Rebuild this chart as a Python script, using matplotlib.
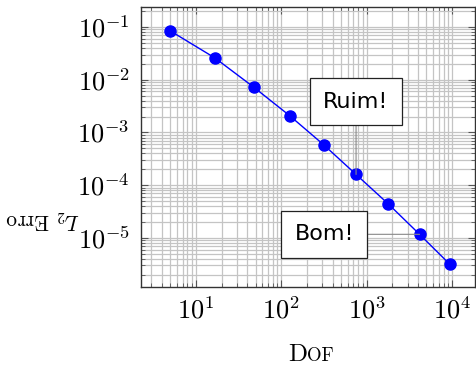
import matplotlib
matplotlib.use("Agg")
from matplotlib import pyplot as plt
from matplotlib.ticker import LogLocator, NullFormatter, FuncFormatter
import numpy as np

plt.rcParams["mathtext.fontset"] = "cm"

# Data
dof = [5, 16.7, 47.5, 126, 315, 750, 1790, 4150, 9300]
erro = [0.085, 0.026, 0.00726, 0.00207, 5.8e-4, 1.6e-4, 4.4e-5, 1.17e-5, 3.2e-6]

fig = plt.figure(figsize=(4.76, 3.68), dpi=100)
ax = fig.add_axes([0.296, 0.22, 0.702, 0.761])

ax.plot(dof, erro, color="#0000ff", lw=1, marker="o", ms=8, zorder=3)

ax.set_xscale("log")
ax.set_yscale("log")
ax.set_xlim(2.28, 18500)
ax.set_ylim(1.17e-6, 0.24)

pow_fmt = FuncFormatter(lambda v, pos: r"$10^{%d}$" % round(np.log10(v)))
for axis in (ax.xaxis, ax.yaxis):
    axis.set_major_locator(LogLocator(base=10, numticks=20))
    axis.set_minor_locator(LogLocator(base=10, subs=range(2, 10), numticks=20))
    axis.set_major_formatter(pow_fmt)
    axis.set_minor_formatter(NullFormatter())

ax.grid(True, which="both", color="#c4c4c4", lw=0.9)
ax.set_axisbelow(True)
ax.tick_params(which="both", direction="in", top=True, right=True, color="#555555", labelsize=19)
ax.tick_params(which="major", length=5, pad=8)
ax.tick_params(which="minor", length=3)
for s in ax.spines.values():
    s.set_color("#333333")
    s.set_linewidth(1)

# annotation boxes
box = dict(boxstyle="square,pad=0.6", fc="white", ec="#222222", lw=0.9)
line = dict(arrowstyle="-", color="#888888", lw=0.8, shrinkA=0, shrinkB=0)
ax.annotate("Ruim!", xy=(dof[5], erro[5]), xytext=(750, 3.83e-3), ha="center", va="center",
            fontsize=16, bbox=box, arrowprops=line, zorder=4)
ax.annotate("Bom!", xy=(dof[7], erro[7]), xytext=(318, erro[7]), ha="center", va="center",
            fontsize=16, bbox=box, arrowprops=line, zorder=4)

# axis labels
fig.text(0.09, 0.405, r"$L_2$ Erro", fontfamily="cmr10", rotation=180,
         ha="center", va="center", fontsize=15.5)
fig.text(0.645, 0.02, "D", fontfamily="cmr10", fontsize=18, ha="right", va="baseline")
fig.text(0.645, 0.02, "OF", fontfamily="cmr10", fontsize=13.5, ha="left", va="baseline")

fig.savefig("out.png", dpi=100)
